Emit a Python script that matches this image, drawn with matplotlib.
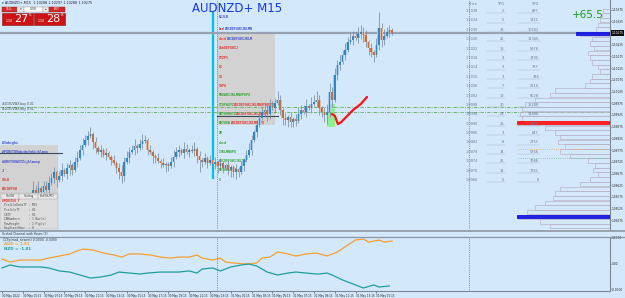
import matplotlib
matplotlib.use('Agg')
import matplotlib.pyplot as plt
import matplotlib.transforms as mtrans
from matplotlib.patches import Rectangle
import numpy as np

W, H = 625, 298
BG = '#d4e8fc'

# ---------------- data ----------------
first_open = 1.09530
close = [1.09541, 1.09528, 1.09545, 1.09532, 1.09519, 1.09536, 1.09524, 1.09511, 1.09528, 1.09506,
         1.09519, 1.09562, 1.09605, 1.09583, 1.09613, 1.09596, 1.09622, 1.09605, 1.09635, 1.09656,
         1.09682, 1.09647, 1.09665, 1.09690, 1.09673, 1.09699, 1.09711, 1.09690, 1.09724, 1.09741,
         1.09775, 1.09797, 1.09818, 1.09835, 1.09844, 1.09810, 1.09784, 1.09767, 1.09775, 1.09754,
         1.09763, 1.09746, 1.09733, 1.09720, 1.09699, 1.09682, 1.09665, 1.09724, 1.09741, 1.09767,
         1.09775, 1.09793, 1.09784, 1.09801, 1.09814, 1.09818, 1.09775, 1.09767, 1.09750, 1.09741,
         1.09729, 1.09720, 1.09711, 1.09716, 1.09707, 1.09724, 1.09746, 1.09767, 1.09775, 1.09763,
         1.09780, 1.09767, 1.09775, 1.09771, 1.09780, 1.09750, 1.09733, 1.09724, 1.09741, 1.09720,
         1.09733, 1.09716, 1.09724, 1.09707, 1.09720, 1.09699, 1.09711, 1.09690, 1.09703, 1.09682,
         1.09694, 1.09682, 1.09707, 1.09733, 1.09754, 1.09775, 1.09818, 1.09852, 1.09882, 1.09912,
         1.09938, 1.09946, 1.09929, 1.09963, 1.09955, 1.09976, 1.09989, 1.09946, 1.09912, 1.09904,
         1.09916, 1.09895, 1.09908, 1.09899, 1.09929, 1.09946, 1.09938, 1.09963, 1.09955, 1.09972,
         1.09980, 1.09989, 1.09955, 1.09938, 1.09925, 1.09938, 1.10023, 1.09989, 1.10096, 1.10139,
         1.10151, 1.10181, 1.10202, 1.10237, 1.10245, 1.10262, 1.10254, 1.10271, 1.10279, 1.10267,
         1.10237, 1.10211, 1.10194, 1.10181, 1.10224, 1.10296, 1.10245, 1.10262, 1.10279, 1.10288,
         1.10275]
wick_up = [2, 1, 3, 1, 2, 1, 2, 1, 3, 1, 2, 3, 4, 2, 3, 1, 2, 2, 3, 2,
           2, 1, 2, 3, 1, 2, 2, 1, 2, 3, 2, 3, 2, 2, 3, 1, 2, 1, 2, 1,
           2, 1, 1, 2, 1, 2, 3, 2, 3, 2, 2, 3, 1, 2, 3, 2, 1, 2, 1, 1,
           2, 1, 2, 1, 1, 2, 3, 2, 2, 1, 3, 2, 1, 2, 3, 1, 2, 1, 2, 1,
           2, 1, 2, 1, 2, 1, 1, 2, 1, 1, 2, 1, 2, 1, 2, 3, 2, 1, 2, 3,
           2, 3, 2, 3, 2, 2, 4, 2, 1, 2, 1, 2, 1, 2, 3, 2, 2, 3, 1, 3,
           3, 4, 2, 1, 2, 3, 4, 2, 3, 2, 3, 2, 3, 2, 3, 2, 2, 3, 3, 2,
           2, 1, 2, 1, 3, 7, 2, 3, 2, 2, 1]
wick_dn = [2, 3, 1, 2, 3, 2, 1, 2, 2, 3, 2, 1, 3, 2, 1, 2, 3, 1, 2, 1,
           2, 3, 1, 2, 1, 2, 3, 2, 1, 2, 1, 2, 1, 2, 1, 3, 2, 1, 2, 1,
           2, 1, 2, 1, 2, 3, 3, 2, 1, 2, 1, 2, 2, 1, 2, 1, 2, 1, 3, 2,
           1, 2, 1, 3, 2, 1, 2, 1, 2, 1, 2, 1, 2, 1, 2, 3, 5, 2, 1, 2,
           1, 2, 2, 3, 1, 2, 1, 2, 3, 2, 3, 2, 1, 2, 1, 1, 2, 1, 2, 1,
           1, 2, 3, 2, 1, 2, 1, 2, 3, 2, 3, 2, 2, 2, 1, 2, 1, 2, 1, 2,
           1, 2, 3, 2, 3, 4, 2, 3, 1, 2, 2, 1, 2, 1, 1, 2, 1, 2, 2, 3,
           2, 3, 2, 3, 1, 2, 3, 2, 1, 2, 1]

bid_price = 1.10275
price_ticks = [1.10375, 1.10325, 1.10275, 1.10225, 1.10175, 1.10125, 1.10075, 1.10025, 1.09975, 1.09925,
               1.09875, 1.09825, 1.09775, 1.09725, 1.09675, 1.09625, 1.09575, 1.09525, 1.09475]
price_labels = ['1.10375', '1.10325', '', '1.10225', '1.10175', '1.10125', '1.10075', '1.10025', '1.09975', '1.09925',
                '1.09875', '1.09825', '1.09775', '1.09725', '1.09675', '1.09625', '1.09575', '1.09525', '1.09475']

time_ticks = [0, 8, 16, 24, 32, 40, 48, 56, 64, 72, 80, 88, 96, 104, 112, 120, 128, 136, 144]
time_labels = ['30 May 2022', '30 May 05:15', '30 May 07:15', '30 May 09:15', '30 May 11:15', '30 May 13:15',
               '30 May 15:15', '30 May 17:15', '30 May 19:15', '30 May 21:15', '30 May 23:15', '31 May 01:15',
               '31 May 03:15', '31 May 05:15', '31 May 07:15', '31 May 09:15', '31 May 11:15', '31 May 13:15',
               '31 May 15:15']
day_separators = [82.7, 179.6]

trade_levels = [1.09960, 1.09938]
trade_labels = ['#2GTUVWX buy 0.01', '#2GTUVWX buy 0.01']

check_x = [126.9, 128.0, 129.2, 130.5, 132.0, 133.5, 135.0, 136.5, 138.0, 140.4]
check_p = [1.09929, 1.09922, 1.09886, 1.09895, 1.09912, 1.09929, 1.09946, 1.09959, 1.09972, 1.10002]

prof_price = list(np.round(np.arange(1.1037, 1.09445, -0.0002), 5))
prof_width = [7, 8, 10, 12, 14, 30, 18, 20, 16, 22, 20, 18, 12, 10, 18, 20, 25, 55, 60, 75,
              85, 88, 90, 88, 92, 65, 55, 50, 52, 45, 50, 40, 22, 15, 17, 12, 20, 30, 50, 55,
              57, 65, 75, 83, 92, 70, 60]
poc_price, poc_width = 1.0989, 92
va_price = [1.1027, 1.0949]
va_width = [33, 92]

aud_x = [0, 3, 7, 15, 18, 22, 26, 31, 35, 39, 43, 46, 49, 53, 57, 61, 65, 68, 72, 75, 77, 81,
         84, 86, 89, 94, 98, 100, 103, 106, 110, 113, 117, 121, 125, 129, 133, 136, 139, 141, 145, 147, 150]
aud_v = [0.36, 0.12, 0.28, 0.28, 0.44, 0.60, 0.77, 1.17, 1.09, 0.85, 0.69, 0.52, 0.77, 0.77, 0.69,
         0.52, 0.44, 0.52, 0.52, 0.69, 0.44, 0.28, 0.44, 0.12, 0.04, -0.04, 0.04, 0.44, 0.52, 0.93,
         0.77, 0.60, 0.77, 0.85, 0.60, 0.93, 1.49, 1.90, 1.98, 1.73, 1.90, 1.73, 1.81]
nzd_x = [0, 3, 7, 11, 15, 18, 22, 26, 30, 34, 38, 42, 45, 49, 53, 56, 61, 65, 68, 72, 75, 77,
         81, 84, 88, 92, 95, 98, 102, 106, 110, 113, 117, 121, 122, 125, 127, 131, 135, 139, 143, 145, 149]
nzd_v = [-0.36, -0.12, -0.28, -0.28, -0.28, -0.36, -0.60, -0.69, -0.93, -1.17, -1.09, -0.93, -0.69,
         -0.77, -0.85, -0.77, -0.69, -0.69, -0.69, -0.60, -0.77, -0.44, -0.36, -0.60, -0.28, -0.12,
         -0.04, -0.20, -0.69, -0.93, -0.77, -0.69, -0.77, -0.85, -0.85, -0.77, -0.93, -1.33, -1.65,
         -1.98, -1.73, -1.90, -1.81]

table_price = ['1.1038', '1.1034', '1.1030', '1.1026', '1.1022', '1.1018', '1.1014', '1.1010', '1.1006', '1.1002',
               '1.0998', '1.0994', '1.0990', '1.0986', '1.0982', '1.0978', '1.0974', '1.0970', '1.0966']
table_tpo = ['2', '5', '28', '25', '18', '9', '3', '3', '7', '18', '30', '28', '25', '3', '8', '14', '25', '14', '0']
table_vpo = ['697', '1811', '10682', '11345', '5976', '3795', '737', '396', '2210', '5528',
             '15288', '14888', '9985', '647', '2751', '5766', '7686', '1761', '0']

# ---------------- figure ----------------
fig = plt.figure(figsize=(W / 100, H / 100), dpi=100, facecolor=BG)
pxt = mtrans.Affine2D().scale(1 / W, -1 / H).translate(0, 1) + fig.transFigure

XL = (-0.77, 233.85)
ax = fig.add_axes([0, 1 - 229 / H, 610 / W, 229 / H], facecolor=BG)
ax.set_xlim(*XL)
ax.set_ylim(1.094382, 1.10416)
for s in ['top', 'left', 'bottom']:
    ax.spines[s].set_visible(False)
ax.spines['right'].set_color('#7d8896')
ax.spines['right'].set_linewidth(0.8)
ax.yaxis.tick_right()
ax.set_xticks([])
ax.set_yticks(price_ticks)
ax.set_yticklabels(price_labels)
ax.tick_params(axis='y', length=1.0, width=0.4, pad=0.4, labelsize=2.1, colors='#222222')

# background chart objects (pixel placed)
ax.add_patch(Rectangle((0, 145), 58, 50, transform=pxt, fc='#d2d2d2', ec='none', zorder=0.5, clip_on=False))
ax.add_patch(Rectangle((217, 32), 58, 93, transform=pxt, fc='#d2d2d2', ec='none', zorder=0.5, clip_on=False))
ax.add_patch(Rectangle((327, 104), 8, 23, transform=pxt, fc='#8ef08e', ec='none', zorder=0.6, clip_on=False))
ax.plot([217, 278], [116, 116], transform=pxt, color='#3a4a5a', lw=0.8, zorder=0.8, clip_on=False)
ax.plot([0, 62], [153, 153], transform=pxt, color='#3a4a5a', lw=0.8, zorder=0.8, clip_on=False)
ax.plot([213, 213], [12, 178], transform=pxt, color='#00c0ee', lw=1.6, zorder=1.2, clip_on=False)

# texts in gray rect / left box (segmented colours)
RED, BLU, GRN = '#e03030', '#3848c8', '#30a030'
CW = 1.92  # approx. char width in px for the tiny mono font
rect_lines = [(17, [('BIJLR', BLU)]), (29, [('bcd', RED), ('ABCDEFGHIJKLMN', BLU)]),
              (39, [('abcd', RED), ('ABCDEFGHIJKLM', BLU)]), (48, [('ZabDEFGHIJ', RED)]),
              (58, [('XYZPS', RED)]), (67, [('XX', RED)]), (77, [('XX', RED)]), (86, [('TUPU', RED)]),
              (95, [('PWXABIJKLMNOPUPU', GRN)]),
              (105, [('STUPWXYZ', GRN), ('ABCDEFGHIJKLMNOPQRSTU', RED)]),
              (114, [('RSTUVWXYZ', GRN), ('ABCDEFGHIJKLMNOP', RED)]),
              (123, [('RSTUVW', GRN), ('ABCDEFGHIJKLMNOPQ', RED)]),
              (133, [('QR', GRN)]), (143, [('abcd', GRN)]), (152, [('IJKLMNOPQ', GRN)]),
              (161, [('ABCDEFGHIJKLMN', GRN)]), (170, [('RSTUVWXYZ', GRN)]), (180, [('6', '#707070')])]
left_lines = [(143, [('#Sabcghi', BLU)]), (152, [('#PQRSTUVabcdefghijklmno', BLU)]),
              (162, [('#QRSTUVWXYZijklmnop', BLU)]), (171, [('J', BLU)]), (180, [('XOLR', RED)]),
              (189, [('ABCDEFGH', RED)])]
for x0, lines in [(219, rect_lines), (2, left_lines)]:
    for y, segs in lines:
        xx = x0
        for s, c in segs:
            ax.text(xx, y, s, transform=pxt, fontsize=2.3, color=c, va='center', ha='left',
                    family='DejaVu Sans Mono', fontweight='bold', zorder=0.9, clip_on=False)
            xx += len(s) * CW

# price line, separators, trade levels
ax.axhline(bid_price, color='#97a3b3', lw=1.6, zorder=1.4)
for xs in day_separators:
    ax.axvline(xs, color='#6f7a86', lw=0.6, ls=(0, (1, 1.2)), zorder=1.3)
for lv, lb in zip(trade_levels, trade_labels):
    ax.axhline(lv, color='#5aaa5a', lw=0.6, ls=(0, (4, 1.5, 1, 1.5)), zorder=1.4)
    ax.annotate(lb, xy=(0, lv), xycoords=('axes fraction', 'data'), xytext=(1.5, 0.8), textcoords='offset points',
                fontsize=2.2, color='#3a4a3a', va='bottom', ha='left', zorder=1.5)

# candles
opens = [first_open] + close[:-1]
for i, (o, c) in enumerate(zip(opens, close)):
    hi = max(o, c) + wick_up[i] * 0.0001
    lo = min(o, c) - wick_dn[i] * 0.0001
    bull = c >= o
    ax.vlines(i, lo, hi, color='#6f8596', lw=0.5, zorder=2)
    h = max(abs(c - o), 0.00002)
    ax.bar(i, h, bottom=min(o, c), width=1.15, color='#a6c8ea' if bull else '#dcb8a8', zorder=2.2, lw=0)
    ax.bar(i, h, bottom=min(o, c), width=0.6, color='#2f86c8' if bull else '#c46e3e', zorder=2.4, lw=0)

ax.plot(check_x, check_p, color='#ff1010', lw=1.6, zorder=4, solid_capstyle='round')

# black bid label
ax.text(1.002, bid_price, '1.10275', transform=mtrans.blended_transform_factory(ax.transAxes, ax.transData),
        fontsize=2.1, color='white', va='center', ha='left', clip_on=False, zorder=6,
        bbox=dict(fc='#101010', ec='none', pad=0.5))

# volume profile
axp = ax.twiny()
axp.set_xlim(610, 0)
axp.axis('off')
axp.barh(prof_price, prof_width, height=0.00019, left=0, fill=False, edgecolor='#bab4c8', lw=0.5)
axp.barh([poc_price], [poc_width], height=0.00008, left=0, fill=False, edgecolor='#ff1010', lw=1.3)
axp.barh(va_price, va_width, height=0.00008, left=0, fill=False, edgecolor='#1010e0', lw=1.3)
axp.plot([92, 0], [1.09780, 1.09780], color='#e0b070', lw=0.6, ls=':')
axp.plot([92, 0], [1.09741, 1.09741], color='#70c0a0', lw=0.6, ls=':')

# ---------------- sub window ----------------
axs = fig.add_axes([0, 1 - 291 / H, 610 / W, 54 / H], facecolor=BG)
axs.set_xlim(*XL)
axs.set_ylim(-2.22, 2.14)
axs.plot(aud_x, aud_v, color='#f5a030', lw=0.9)
axs.plot(nzd_x, nzd_v, color='#229c9c', lw=0.9)
for xs in day_separators:
    axs.axvline(xs, color='#6f7a86', lw=0.6, ls=(0, (1, 1.2)))
for s in ['top', 'left']:
    axs.spines[s].set_visible(False)
for s in ['right', 'bottom']:
    axs.spines[s].set_color('#7d8896')
    axs.spines[s].set_linewidth(0.8)
axs.yaxis.tick_right()
axs.set_yticks([2.06, 0, -2.06])
axs.set_yticklabels(['0.0000', '0.00', '-0.0000'])
axs.set_xticks(time_ticks)
axs.set_xticklabels(time_labels, ha='left')
axs.tick_params(axis='y', length=1.0, width=0.4, pad=0.4, labelsize=2.1, colors='#222222')
axs.tick_params(axis='x', length=1.2, width=0.4, pad=0.6, labelsize=1.95, colors='#222222')

# ---------------- overlay (UI) ----------------
ov = fig.add_axes([0, 0, 1, 1])
ov.set_xlim(0, W)
ov.set_ylim(H, 0)
ov.axis('off')
ov.patch.set_alpha(0)

ov.text(2, 3.2, '\u25be AUDNZD+,M15  1.10288 1.10297 1.10288 1.10275', fontsize=2.4, color='#202030', va='center')
# sell / buy panel
ov.add_patch(Rectangle((2, 7), 15, 5, fc='#d42a2a', ec='#902020', lw=0.3))
ov.text(9.5, 9.5, 'SELL', fontsize=2.1, color='white', ha='center', va='center')
ov.add_patch(Rectangle((17, 7), 7, 5, fc='#eeeeee', ec='#909090', lw=0.3))
ov.text(20.5, 9.5, '\u25be', fontsize=2.3, color='#404040', ha='center', va='center')
ov.add_patch(Rectangle((24, 7), 19, 5, fc='white', ec='#909090', lw=0.3))
ov.text(33.5, 9.5, '0.08', fontsize=2.2, color='#303030', ha='center', va='center')
ov.add_patch(Rectangle((43, 7), 6, 5, fc='#eeeeee', ec='#909090', lw=0.3))
ov.text(46, 9.5, '\u25b4', fontsize=2.3, color='#404040', ha='center', va='center')
ov.add_patch(Rectangle((49, 7), 16, 5, fc='#d42a2a', ec='#902020', lw=0.3))
ov.text(57, 9.5, 'BUY', fontsize=2.1, color='white', ha='center', va='center')
for x0, big, sup in [(2, '27', '5'), (34, '28', '8')]:
    ov.add_patch(Rectangle((x0, 12.5), 31, 12, fc='#cc1414', ec='#8a1010', lw=0.4))
    ov.text(x0 + 4, 21, '1.10', fontsize=2.3, color='white', va='center')
    ov.text(x0 + 12, 18.8, big, fontsize=8, color='white', va='center')
    ov.text(x0 + 26.5, 15.5, sup, fontsize=3, color='white', va='center')

ov.text(237, 9, 'AUDNZD+ M15', fontsize=8.5, color='#1438e6', ha='center', va='center')
ov.text(588, 15, '+65.5', fontsize=7.5, color='#1a9a1a', ha='center', va='center')

# VPO table
ov.text(473, 4, 'Price', fontsize=2.5, color='#6a7888', ha='center', va='center')
ov.text(501, 4, 'TPO', fontsize=2.5, color='#6a7888', ha='center', va='center')
ov.text(536, 4, 'VPO', fontsize=2.5, color='#6a7888', ha='center', va='center')
for k, (p, t, v) in enumerate(zip(table_price, table_tpo, table_vpo)):
    y = 11 + 9.39 * k
    ov.text(478, y, p, fontsize=2.5, color='#6a7888', ha='right', va='center')
    ov.text(504, y, t, fontsize=2.5, color='#6a7888', ha='right', va='center')
    ov.text(539, y, v, fontsize=2.5, color='#6a7888', ha='right', va='center')
    ov.plot([487, 505], [y + 2.2, y + 2.2], color='#a8b4c4', lw=0.3)
    ov.plot([517, 540], [y + 2.2, y + 2.2], color='#a8b4c4', lw=0.3)

# settings box (bottom-left)
ov.add_patch(Rectangle((0, 193), 58, 36, fc='#dcdcdc', ec='#b0b0b0', lw=0.3))
for x0, w, s in [(1, 18, 'On/Off'), (19, 19, 'Setting'), (38, 19, 'Bull/NUPD')]:
    ov.add_patch(Rectangle((x0, 193.5), w, 5, fc='#e8e8e8', ec='#a0a0a0', lw=0.3))
    ov.text(x0 + w / 2, 196, s, fontsize=2.1, color='#404040', ha='center', va='center')
ov.text(2, 200.8, '#PQRSTUV Y', fontsize=2.2, color='#e03030', va='center', family='DejaVu Sans Mono',
        fontweight='bold')
settings = ['ProfileDataTF : M15', 'ProfileTF     : H1', 'IBTF          : H1', 'IBNumbers     : 1 Bar(s)',
            'RowHeight     : 2 Pip(s)', 'DayStartHour  : 0']
for k, s in enumerate(settings):
    ov.text(4, 205.5 + 4.5 * k, s, fontsize=2.2, color='#505050', va='center', family='DejaVu Sans Mono')

# separator between windows
ov.add_patch(Rectangle((0, 229.5), W, 2.5, fc='#9aa4b0', ec='none'))
ov.plot([0, W], [236.6, 236.6], color='#8a96a4', lw=0.9)
ov.text(2, 234.3, 'Scaled Channel with Hours (3)', fontsize=2.2, color='#303030', va='center')
ov.text(3, 239.6, 'CCFp(mod_newest) 0.0000 -0.0000', fontsize=2.2, color='#303030', va='center')
ov.text(4, 244, 'AUD = 1.81', fontsize=2.9, color='#f5a030', va='center', fontweight='bold')
ov.text(4, 248.6, 'NZD = -1.81', fontsize=2.9, color='#229c9c', va='center', fontweight='bold')

fig.savefig('out.png', dpi=100, facecolor=BG)
